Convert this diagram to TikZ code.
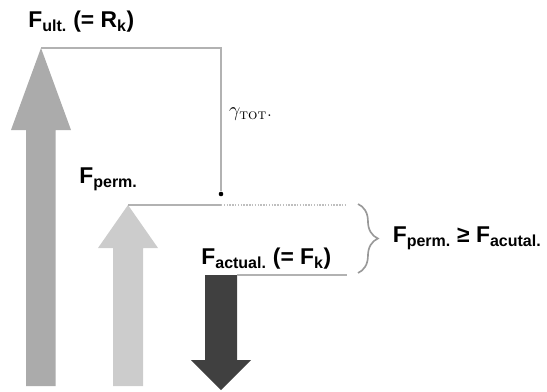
\documentclass[tikz,border=0pt]{standalone}
\usepackage{amsmath}
\usepackage{fontspec}
\newfontfamily\lblfont{Liberation Sans}
\usetikzlibrary{positioning, decorations.pathreplacing, calc}

\begin{document}
\begin{tikzpicture}[
    x=0.03cm, y=-0.03cm,
    guide/.style={draw=black!30, line width=1.6pt},
    dotguide/.style={draw=black!25, line width=1.6pt, dash pattern=on 1.2pt off 1.2pt},
    lbl/.style={font=\lblfont\bfseries\fontsize{19.5}{21}\selectfont, inner sep=1pt},
]
\useasboundingbox (0,0) rectangle (547,392);

% force arrows
\fill[black!33] (41,48) -- (71,130) -- (55.5,130) -- (55.5,386) -- (26,386) -- (26,130) -- (11,130) -- cycle;
\fill[black!20] (128,205) -- (158,248) -- (143,248) -- (143,386) -- (113,386) -- (113,248) -- (98,248) -- cycle;
\fill[black!75] (221,390) -- (251,360) -- (237,360) -- (237,275) -- (205,275) -- (205,360) -- (191,360) -- cycle;

% tips and line ends
\coordinate (ult) at (41,48);
\coordinate (corner) at (221,48);
\coordinate (dot) at (221,194);
\coordinate (perm) at (128,205);
\coordinate (permmid) at (221,205);
\coordinate (permend) at (347,205);
\coordinate (act) at (237,275);
\coordinate (actend) at (347,275);

\draw[guide] (ult) -- (corner) -- ($(dot)+(0,-3)$);
\fill (dot) circle (2.3);
\draw[guide] (perm) -- (permmid);
\draw[dotguide] (permmid) -- (permend);
\draw[guide] (act) -- (actend);
\draw[draw=black!40, line width=1.4pt, decoration={brace, amplitude=17pt}, decorate] (358,204) -- (358,273) node[midway, right=28pt, lbl] (cmp) {F\textsubscript{perm.} ≥ F\textsubscript{acutal.}};

% labels
\node[lbl, anchor=west] (lult) at (27,22) {F\textsubscript{ult.} (= R\textsubscript{k})};
\node[anchor=west, font=\fontsize{18}{20}\selectfont] (lgam) at (225,114) {$\gamma_{\text{\textsc{tot}}}$.};
\node[lbl, anchor=west] (lperm) at (78,179) {F\textsubscript{perm.}};
\node[lbl, anchor=west] (lact) at (200,259) {F\textsubscript{actual.} (= F\textsubscript{k})};
\end{tikzpicture}
\end{document}
